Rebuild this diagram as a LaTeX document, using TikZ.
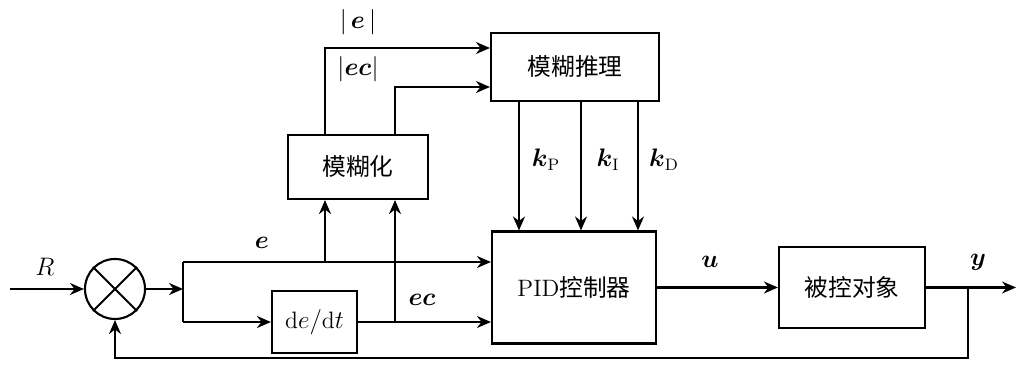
\documentclass[tikz,border=0pt]{standalone}
\usepackage{fontspec}
\usepackage{amsmath}
\usetikzlibrary{arrows.meta,positioning,calc}
\newfontfamily\cjk{Noto Sans CJK SC}

\begin{document}
\begin{tikzpicture}[
  block/.style={
    rectangle, draw, line width=1.2pt, align=center, inner sep=0pt,
    font=\fontsize{13.5}{16}\selectfont\cjk
  },
  summer/.style={
    circle, draw, line width=1.2pt, minimum size=1.2cm, inner sep=0pt
  },
  lbl/.style={font=\fontsize{13.5}{15}\selectfont, inner sep=1pt},
  arr/.style={-{Stealth[length=2.8mm,width=2.4mm]}, line width=1.2pt},
  ln/.style={line width=1.2pt}
]
\useasboundingbox (0,0) rectangle (20.34,7.3);

% --- Blocks
\node[summer] (sum) at (2.30,1.52) {};
\draw[ln] (sum.north west) -- (sum.south east);
\draw[ln] (sum.north east) -- (sum.south west);
\node[block, minimum width=1.7cm, minimum height=1.24cm] (diff) at (6.29,0.86) {\fontsize{13.5}{15}\selectfont$\mathrm{d}e/\mathrm{d}t$};
\node[block, minimum width=3.28cm, minimum height=2.24cm] (pid) at (11.48,1.55) {{\rmfamily PID}控制器};
\node[block, minimum width=2.92cm, minimum height=1.62cm] (plant) at (17.04,1.55) {被控对象};
\node[block, minimum width=2.8cm, minimum height=1.28cm] (fuzz) at (7.16,3.96) {模糊化};
\node[block, minimum width=3.36cm, minimum height=1.36cm] (infer) at (11.50,5.96) {模糊推理};

% --- Helper points
\coordinate (in)   at (0.2,1.52);
\coordinate (split) at (3.66,1.52);
\coordinate (ebr)  at (6.50,2.06);
\coordinate (ecbr) at (7.90,0.86);
\coordinate (ytap) at (19.36,1.55);
\coordinate (out)  at (20.32,1.55);

% --- Labels
\node[lbl] (lR)  at (0.90,1.96) {$R$};
\node[lbl] (le)  at (5.24,2.44) {$\boldsymbol{e}$};
\node[lbl] (lec) at (8.44,1.30) {$\boldsymbol{ec}$};
\node[lbl] (lu)  at (14.20,2.06) {$\boldsymbol{u}$};
\node[lbl] (ly)  at (19.56,2.06) {$\boldsymbol{y}$};
\node[lbl] (lae)  at (7.16,6.86) {$|\,\boldsymbol{e}\,|$};
\node[lbl] (laec) at (7.16,5.92) {$|\boldsymbol{ec}|$};
\node[lbl] (lkp) at (10.92,4.10) {$\boldsymbol{k}_{\mathrm{P}}$};
\node[lbl] (lki) at (12.16,4.10) {$\boldsymbol{k}_{\mathrm{I}}$};
\node[lbl] (lkd) at (13.28,4.10) {$\boldsymbol{k}_{\mathrm{D}}$};

% --- Main loop
\draw[arr] (in) -- (sum.west);
\draw[arr] (sum.east) -- (split);
\draw[ln] (split |- 0,2.06) -- (split |- diff);
\draw[arr] (split |- 0,2.06) -- (pid.west |- ebr);
\draw[arr] (split |- diff) -- (diff.west);
\draw[arr] (diff.east) -- (pid.west |- ecbr);
\draw[arr] (pid.east) -- (plant.west);
\draw[arr] (plant.east) -- (out);
\draw[arr] (ytap) -- (ytap |- 0,0.14) -- (sum.south |- 0,0.14) -- (sum.south);

% --- Fuzzy tuning
\draw[arr] (ebr) -- (ebr |- fuzz.south);
\draw[arr] (ecbr) -- (ecbr |- fuzz.south);
\draw[arr] (ebr |- fuzz.north) -- (ebr |- 0,6.34) -- (infer.west |- 0,6.34);
\draw[arr] (ecbr |- fuzz.north) -- (ecbr |- 0,5.56) -- (infer.west |- 0,5.56);
\draw[arr] (infer.south -| 10.38,0) -- (pid.north -| 10.38,0);
\draw[arr] (infer.south -| 11.62,0) -- (pid.north -| 11.62,0);
\draw[arr] (infer.south -| 12.76,0) -- (pid.north -| 12.76,0);

\end{tikzpicture}
\end{document}
